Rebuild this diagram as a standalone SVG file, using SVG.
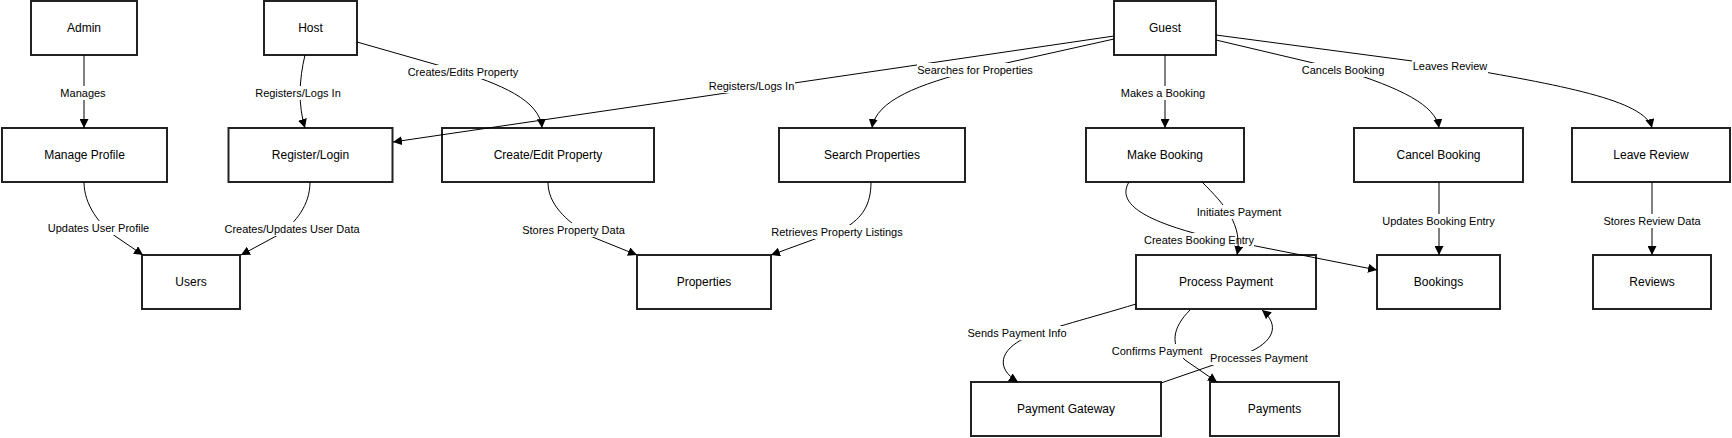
<svg xmlns="http://www.w3.org/2000/svg" width="1732" height="438" viewBox="0 0 1732 438">
<style>
.node rect{fill:#fff;stroke:#222;stroke-width:2}
.node text{font-family:"Liberation Sans",Arial,sans-serif;font-size:12px;fill:#000;text-anchor:middle;dominant-baseline:central}
.edge path{fill:none;stroke:#000;stroke-width:1;marker-end:url(#arrow)}
.lbl rect{fill:#fff;stroke:none}
.lbl text{font-family:"Liberation Sans",Arial,sans-serif;font-size:11px;fill:#000;text-anchor:middle;dominant-baseline:central}
</style>
<defs>
<marker id="arrow" viewBox="0 0 10 10" refX="10" refY="5" markerWidth="9" markerHeight="9" markerUnits="userSpaceOnUse" orient="auto">
<path d="M0,0 L10,5 L0,10 z" fill="#000"/>
</marker>
</defs>
<rect width="1732" height="438" fill="#fff"/>
<g id="nodes">
<g id="admin" class="node"><rect x="31" y="1" width="106" height="54"/><text x="84" y="28">Admin</text></g>
<g id="host" class="node"><rect x="264" y="1" width="93" height="54"/><text x="310.5" y="28">Host</text></g>
<g id="guest" class="node"><rect x="1114" y="1" width="102" height="54"/><text x="1165" y="28">Guest</text></g>
<g id="manage-profile" class="node"><rect x="2" y="128" width="165" height="54"/><text x="84.5" y="155">Manage Profile</text></g>
<g id="register-login" class="node"><rect x="228.5" y="128" width="164" height="54"/><text x="310.5" y="155">Register/Login</text></g>
<g id="create-edit-property" class="node"><rect x="442" y="128" width="212" height="54"/><text x="548" y="155">Create/Edit Property</text></g>
<g id="search-properties" class="node"><rect x="779" y="128" width="186" height="54"/><text x="872" y="155">Search Properties</text></g>
<g id="make-booking" class="node"><rect x="1086" y="128" width="158" height="54"/><text x="1165" y="155">Make Booking</text></g>
<g id="cancel-booking" class="node"><rect x="1354" y="128" width="169" height="54"/><text x="1438.5" y="155">Cancel Booking</text></g>
<g id="leave-review" class="node"><rect x="1572" y="128" width="158" height="54"/><text x="1651" y="155">Leave Review</text></g>
<g id="users" class="node"><rect x="142" y="255" width="98" height="54"/><text x="191" y="282">Users</text></g>
<g id="properties" class="node"><rect x="637" y="255" width="134" height="54"/><text x="704" y="282">Properties</text></g>
<g id="process-payment" class="node"><rect x="1136" y="255" width="180" height="54"/><text x="1226" y="282">Process Payment</text></g>
<g id="bookings" class="node"><rect x="1377" y="255" width="123" height="54"/><text x="1438.5" y="282">Bookings</text></g>
<g id="reviews" class="node"><rect x="1593" y="255" width="118" height="54"/><text x="1652" y="282">Reviews</text></g>
<g id="payment-gateway" class="node"><rect x="971" y="382" width="190" height="54"/><text x="1066" y="409">Payment Gateway</text></g>
<g id="payments" class="node"><rect x="1210" y="382" width="129" height="54"/><text x="1274.5" y="409">Payments</text></g>
</g>
<g id="connectors">
<g class="edge"><path d="M84,55 L84,128"/></g>
<g class="lbl"><rect x="60" y="86" width="46" height="14"/><text x="83" y="93">Manages</text></g>
<g class="edge"><path d="M305,55 C299,80 298,105 305,128"/></g>
<g class="lbl"><rect x="255" y="86" width="86" height="14"/><text x="298" y="93">Registers/Logs In</text></g>
<g class="edge"><path d="M357,42 L455,70 C500,84 540,100 542,128"/></g>
<g class="lbl"><rect x="407" y="65" width="112" height="14"/><text x="463" y="72">Creates/Edits Property</text></g>
<g class="edge"><path d="M1114,36 L393,142"/></g>
<g class="lbl"><rect x="708" y="79" width="87" height="14"/><text x="751.5" y="86">Registers/Logs In</text></g>
<g class="edge"><path d="M1114,39 L975,70 C920,84 876,100 872,128"/></g>
<g class="lbl"><rect x="917" y="63" width="116" height="14"/><text x="975" y="70">Searches for Properties</text></g>
<g class="edge"><path d="M1165,55 L1165,128"/></g>
<g class="lbl"><rect x="1121" y="86" width="84" height="14"/><text x="1163" y="93">Makes a Booking</text></g>
<g class="edge"><path d="M1216,40 L1343,70 C1400,88 1436,105 1439,128"/></g>
<g class="lbl"><rect x="1301" y="63" width="84" height="14"/><text x="1343" y="70">Cancels Booking</text></g>
<g class="edge"><path d="M1216,35 L1450,66 C1560,85 1645,100 1652,128"/></g>
<g class="lbl"><rect x="1412" y="59" width="76" height="14"/><text x="1450" y="66">Leaves Review</text></g>
<g class="edge"><path d="M84,182 C84,205 100,225 115,236 L143,255"/></g>
<g class="lbl"><rect x="47.5" y="221" width="102" height="14"/><text x="98.5" y="228">Updates User Profile</text></g>
<g class="edge"><path d="M310,182 C310,205 296,222 280,234 L241,255"/></g>
<g class="lbl"><rect x="224.5" y="222" width="135" height="14"/><text x="292" y="229">Creates/Updates User Data</text></g>
<g class="edge"><path d="M548,182 C548,204 565,220 590,236 L637,255"/></g>
<g class="lbl"><rect x="522" y="223" width="103" height="14"/><text x="573.5" y="230">Stores Property Data</text></g>
<g class="edge"><path d="M871,182 C871,205 862,218 845,228 L771,255"/></g>
<g class="lbl"><rect x="771.5" y="225" width="131" height="14"/><text x="837" y="232">Retrieves Property Listings</text></g>
<g class="edge"><path d="M1129,182 C1115,205 1150,222 1205,236 L1377,270"/></g>
<g class="lbl"><rect x="1144" y="233" width="110" height="14"/><text x="1199" y="240">Creates Booking Entry</text></g>
<g class="edge"><path d="M1202,182 C1225,205 1243,225 1237,255"/></g>
<g class="lbl"><rect x="1197" y="205" width="84" height="14"/><text x="1239" y="212">Initiates Payment</text></g>
<g class="edge"><path d="M1439,182 L1439,255"/></g>
<g class="lbl"><rect x="1382" y="214" width="113" height="14"/><text x="1438.5" y="221">Updates Booking Entry</text></g>
<g class="edge"><path d="M1652,182 L1652,255"/></g>
<g class="lbl"><rect x="1603.5" y="214" width="97" height="14"/><text x="1652" y="221">Stores Review Data</text></g>
<g class="edge"><path d="M1136,304 C1090,318 1050,328 1025,338 C1000,350 995,368 1018,382"/></g>
<g class="lbl"><rect x="967.5" y="326" width="99" height="14"/><text x="1017" y="333">Sends Payment Info</text></g>
<g class="edge"><path d="M1190,310 C1172,328 1170,345 1185,360 L1217,382"/></g>
<g class="lbl"><rect x="1112" y="344" width="90" height="14"/><text x="1157" y="351">Confirms Payment</text></g>
<g class="edge"><path d="M1161,383 L1245,354 C1275,342 1280,325 1262,310"/></g>
<g class="lbl"><rect x="1210" y="351" width="98" height="14"/><text x="1259" y="358">Processes Payment</text></g>
</g>
</svg>
